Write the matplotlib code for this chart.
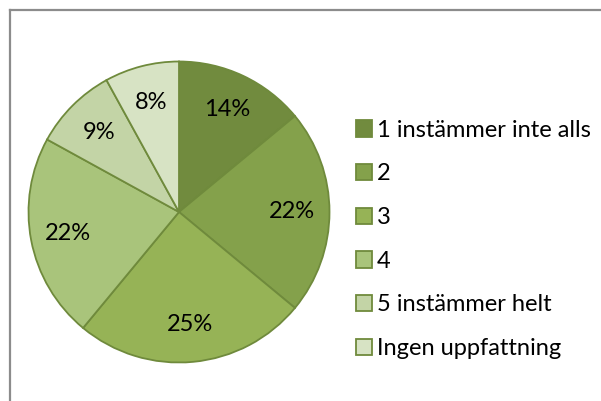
import matplotlib
matplotlib.use("Agg")
import matplotlib.pyplot as plt
from matplotlib.patches import Patch
from matplotlib.lines import Line2D

categories = ["1 instämmer inte alls", "2", "3", "4", "5 instämmer helt", "Ingen uppfattning"]
values = [14, 22, 25, 22, 9, 8]
colors = ["#718B3E", "#84A14B", "#96B356", "#A9C47B", "#C3D4A6", "#D7E3C4"]
edge = "#6F8A3C"

plt.rcParams["font.family"] = ["Lato", "DejaVu Sans"]
W, H = 601, 401
FS = 17
fig = plt.figure(figsize=(W / 100, H / 100), dpi=100)

cx, cy, r = 179, 212, 152
ax = fig.add_axes([(cx - r) / W, (H - cy - r) / H, 2 * r / W, 2 * r / H])
wedges, texts, autotexts = ax.pie(
    values, colors=colors, startangle=90, counterclock=False,
    autopct=lambda p: f"{p:.0f}%", pctdistance=0.75,
    wedgeprops=dict(edgecolor=edge, linewidth=1.3),
    textprops=dict(fontsize=FS, color="black"))
ax.set_xlim(-1.01, 1.01)
ax.set_ylim(-1.01, 1.01)
ax.set_aspect("equal")

handles = [Patch(facecolor=c, edgecolor=edge, linewidth=1.3) for c in colors]
fig.legend(handles, categories, loc="upper left",
           bbox_to_anchor=(344 / W, 1 - 108 / H), frameon=False,
           fontsize=FS, handlelength=0.7, handleheight=0.7,
           handletextpad=0.2, labelspacing=0.96, borderpad=0)

# outer frame (left and top edges visible)
fig.add_artist(Line2D([9.5 / W, 9.5 / W], [0, 1 - 10 / H], transform=fig.transFigure,
                      color="#8C8C8C", linewidth=1.6))
fig.add_artist(Line2D([9.5 / W, 1], [1 - 10 / H, 1 - 10 / H], transform=fig.transFigure,
                      color="#8C8C8C", linewidth=1.6))

fig.savefig("out.png", dpi=100, facecolor="white")
